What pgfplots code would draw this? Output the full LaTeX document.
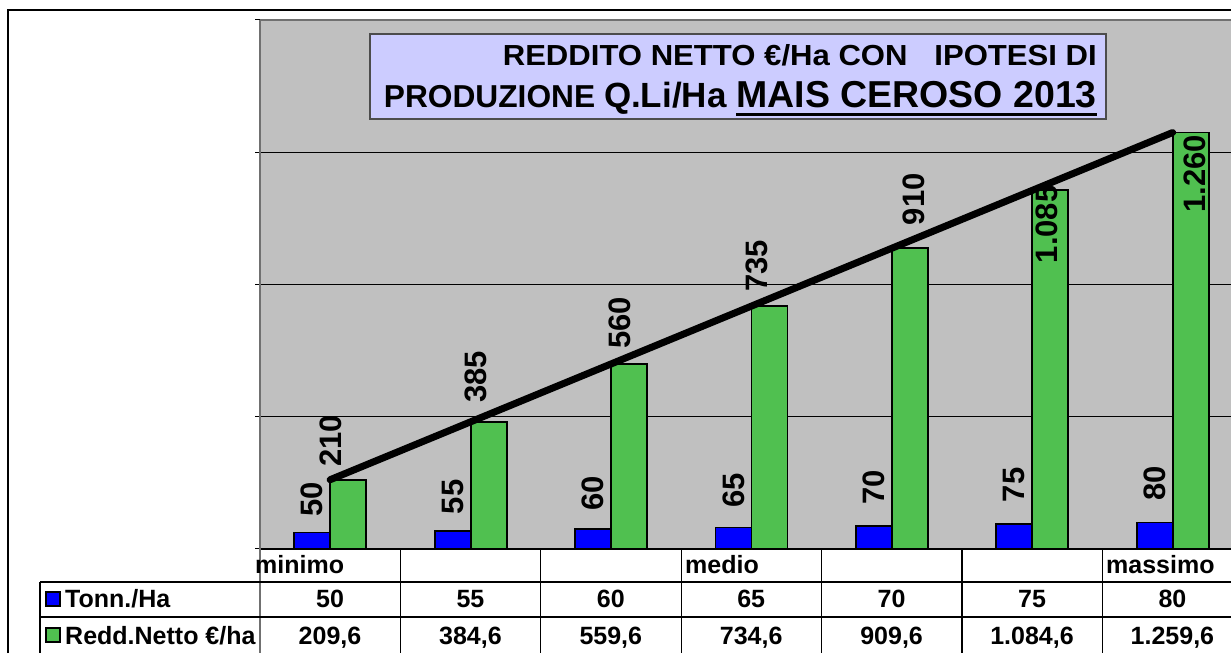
\documentclass[border=0pt]{standalone}
\usepackage{fontspec}
\setmainfont{Liberation Sans}
\usepackage{graphicx}
\usepackage{pgfplots}
\pgfplotsset{compat=1.18}
\usetikzlibrary{calc}
\definecolor{plotgray}{HTML}{C0C0C0}
\definecolor{titlebg}{HTML}{CCCCFF}
\definecolor{barblue}{HTML}{0000FF}
\definecolor{bargreen}{HTML}{50C050}
\definecolor{axisgray}{HTML}{707070}
\newcommand\ul[1]{\setbox0\hbox{#1}\rlap{\rule[-8.5pt]{\wd0}{3pt}}\box0}
\newcommand\lbl{\fontsize{31}{31}\selectfont\bfseries}
\newcommand\tbl{\fontsize{25}{25}\selectfont\bfseries}
\begin{document}
\begin{tikzpicture}
% outer frame
\draw[black, line width=1.8pt] (8pt,0pt) -- (8pt,643pt) -- (1240pt,643pt);
\begin{axis}[
  at={(260pt,104pt)}, anchor=south west,
  scale only axis, width=982.8pt, height=529pt,
  xmin=-0.5, xmax=6.5, ymin=0, ymax=1600,
  set layers,
  axis background/.style={fill=plotgray},
  axis x line*=bottom, axis y line*=left,
  x axis line style={black, line width=1.5pt},
  y axis line style={draw=axisgray, line width=2.2pt},
  xtick=\empty,
  ytick={0,400,800,1200,1600}, yticklabels={},
  ymajorgrids, grid style={black, line width=1pt},
  tick align=outside, major tick length=5pt,
  tick style={black, line width=1pt},
  clip=false,
]
\addplot[ybar, bar width=36pt, bar shift=-18pt, fill=barblue, draw=black, line width=1.8pt]
  coordinates {(0,50) (1,55) (2,60) (3,65) (4,70) (5,75) (6,80)};
\addplot[ybar, bar width=36pt, bar shift=18pt, fill=bargreen, draw=black, line width=1.8pt]
  coordinates {(0,209.6) (1,384.6) (2,559.6) (3,734.6) (4,909.6) (5,1084.6) (6,1259.6)};
\addplot[sharp plot, black, line width=7pt, line cap=round, mark=none, on layer=axis foreground]
  coordinates {(0,209.6) (1,384.6) (2,559.6) (3,734.6) (4,909.6) (5,1084.6) (6,1259.6)};
% top border of plot area
\draw[axisgray, line width=2.2pt] (axis cs:-0.5,1600) -- (axis cs:6.5,1600);
% blue labels
\node[rotate=90, anchor=west, inner sep=0pt, font=\lbl] at ($(axis cs:0,50)+(-18pt,15.5pt)$) {50};
\node[rotate=90, anchor=west, inner sep=0pt, font=\lbl] at ($(axis cs:1,55)+(-18pt,16.5pt)$) {55};
\node[rotate=90, anchor=west, inner sep=0pt, font=\lbl] at ($(axis cs:2,60)+(-18pt,18pt)$) {60};
\node[rotate=90, anchor=west, inner sep=0pt, font=\lbl] at ($(axis cs:3,65)+(-18pt,19.5pt)$) {65};
\node[rotate=90, anchor=west, inner sep=0pt, font=\lbl] at ($(axis cs:4,70)+(-18pt,21pt)$) {70};
\node[rotate=90, anchor=west, inner sep=0pt, font=\lbl] at ($(axis cs:5,75)+(-18pt,22pt)$) {75};
\node[rotate=90, anchor=west, inner sep=0pt, font=\lbl] at ($(axis cs:6,80)+(-18pt,22pt)$) {80};
% green labels
\node[rotate=90, anchor=west, inner sep=0pt, font=\lbl] at ($(axis cs:0,209.6)+(1pt,12.6pt)$) {210};
\node[rotate=90, anchor=west, inner sep=0pt, font=\lbl] at ($(axis cs:1,384.6)+(5pt,18.7pt)$) {385};
\node[rotate=90, anchor=west, inner sep=0pt, font=\lbl] at ($(axis cs:2,559.6)+(9pt,15pt)$) {560};
\node[rotate=90, anchor=west, inner sep=0pt, font=\lbl] at ($(axis cs:3,734.6)+(5pt,14pt)$) {735};
\node[rotate=90, anchor=west, inner sep=0pt, font=\lbl] at ($(axis cs:4,909.6)+(22pt,23pt)$) {910};
\node[rotate=90, anchor=west, inner sep=0pt, font=\lbl] at ($(axis cs:5,1084.6)+(15pt,-73pt)$) {1.085};
\node[rotate=90, anchor=west, inner sep=0pt, font=\lbl] at ($(axis cs:6,1259.6)+(22pt,-80pt)$) {1.260};
\end{axis}
% y axis line continued through the table
\draw[axisgray, line width=2.2pt] (260pt,104pt) -- (260pt,0pt);
% table grid
\draw[black, line width=1.2pt] (40pt,71pt) -- (1240pt,71pt);
\draw[black, line width=1.2pt] (40pt,36pt) -- (1240pt,36pt);
\draw[black, line width=1.2pt] (40pt,71pt) -- (40pt,0pt);
\foreach \xx in {400.4,540.8,681.2,821.6,962,1102.4}
  \draw[black, line width=1.2pt] (\xx pt,104pt) -- (\xx pt,0pt);
% category names
\node[anchor=base west, inner sep=0pt, font=\tbl] at (255pt,79pt) {minimo};
\node[anchor=base west, inner sep=0pt, font=\tbl] at (685pt,79pt) {medio};
\node[anchor=base west, inner sep=0pt, font=\tbl] at (1106pt,79pt) {massimo};
% legend keys
\draw[fill=barblue, draw=black, line width=1.2pt] (46pt,47pt) rectangle (60pt,61pt);
\node[anchor=base west, inner sep=0pt, font=\tbl] at (65pt,45pt) {Tonn./Ha};
\draw[fill=bargreen, draw=black, line width=1.2pt] (46pt,11pt) rectangle (60pt,25pt);
\node[anchor=base west, inner sep=0pt, font=\tbl] at (65pt,9pt) {Redd.Netto €/ha};
% values
\foreach \v [count=\i from 0] in {50,55,60,65,70,75,80}
  \node[anchor=base, inner sep=0pt, font=\tbl] at (330pt+140.4pt*\i,45pt) {\v};
\foreach \v [count=\i from 0] in {{209,6},{384,6},{559,6},{734,6},{909,6},{1.084,6},{1.259,6}}
  \node[anchor=base, inner sep=0pt, font=\tbl] at (330pt+140.4pt*\i,9pt) {\v};
% title box
\draw[fill=titlebg, draw=gray!60!black, line width=1.2pt] (370pt,534pt) rectangle (1106pt,619pt);
\node[anchor=base east, inner sep=0pt] at (1097pt,587.5pt)
  {\resizebox{594pt}{\height}{\fontsize{29}{29}\selectfont\bfseries REDDITO NETTO €/Ha CON\hspace{25pt}IPOTESI DI}};
\node[anchor=base east, inner sep=0pt] at (1097pt,545pt)
  {\bfseries\fontsize{31.7}{32}\selectfont PRODUZIONE \fontsize{35}{35}\selectfont Q.Li/Ha \fontsize{37.5}{38}\selectfont\ul{MAIS CEROSO 2013}};
\pgfresetboundingbox
\path[use as bounding box] (0pt,0pt) rectangle (1231pt,653pt);
\end{tikzpicture}
\end{document}
